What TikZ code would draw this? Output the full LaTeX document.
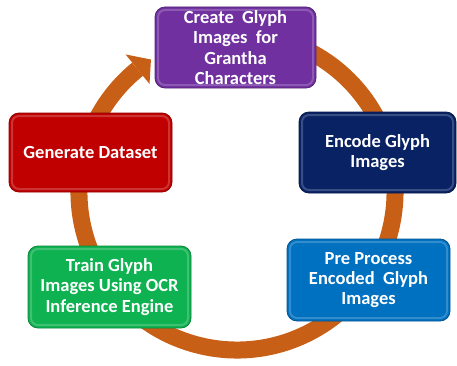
\documentclass[tikz,border=0pt]{standalone}
\usepackage{fontspec}
\setmainfont{Carlito}
\definecolor{ringc}{RGB}{200,95,22}
\definecolor{cpurple}{RGB}{112,48,160}
\definecolor{cred}{RGB}{192,0,0}
\definecolor{cnavy}{RGB}{8,34,100}
\definecolor{cgreen}{RGB}{14,178,80}
\definecolor{cblue}{RGB}{0,112,192}
\tikzset{
  stepbox/.style={rounded corners=10pt, fill=#1, draw=#1!75!black, line width=0.8pt,
    minimum width=161pt, minimum height=81pt, text=white, align=center, inner sep=1pt,
    font=\fontsize{18.5}{20.3}\selectfont\bfseries,
    path picture={\draw[white, opacity=0.2, line width=2pt, rounded corners=7pt]
      ([shift={(3pt,3pt)}]path picture bounding box.south west) rectangle
      ([shift={(-3pt,-3pt)}]path picture bounding box.north east);}},
  ringline/.style={draw=ringc, line width=17pt},
}
\begin{document}
\begin{tikzpicture}[x=1pt,y=1pt]
\useasboundingbox (0,0) rectangle (457,365);
\coordinate (C) at (237,173);
% ring
\draw[ringline] (C) ++(75:158) arc[start angle=75, end angle=-231, radius=158];
\fill[ringc, shift={(C)}] (129:177) -- (123:158) -- (129:139) -- cycle;
% boxes
\node[stepbox=cpurple] (create) at (235.5,317.5) {Create~ Glyph\\Images~ for\\Grantha\\Characters};
\node[stepbox=cnavy, minimum width=157pt] (encode) at (377.5,212.5) {Encode Glyph\\Images};
\node[stepbox=cblue, minimum width=163pt, minimum height=82pt] (pre) at (368.5,85) {Pre Process\\Encoded~ Glyph\\Images};
\node[stepbox=cgreen, minimum width=163pt, minimum height=82pt] (train) at (109.5,78) {Train Glyph\\Images Using OCR\\Inference Engine};
\node[stepbox=cred, minimum width=163pt, minimum height=79pt] (gen) at (90.5,212.5) {Generate Dataset};
\end{tikzpicture}
\end{document}
